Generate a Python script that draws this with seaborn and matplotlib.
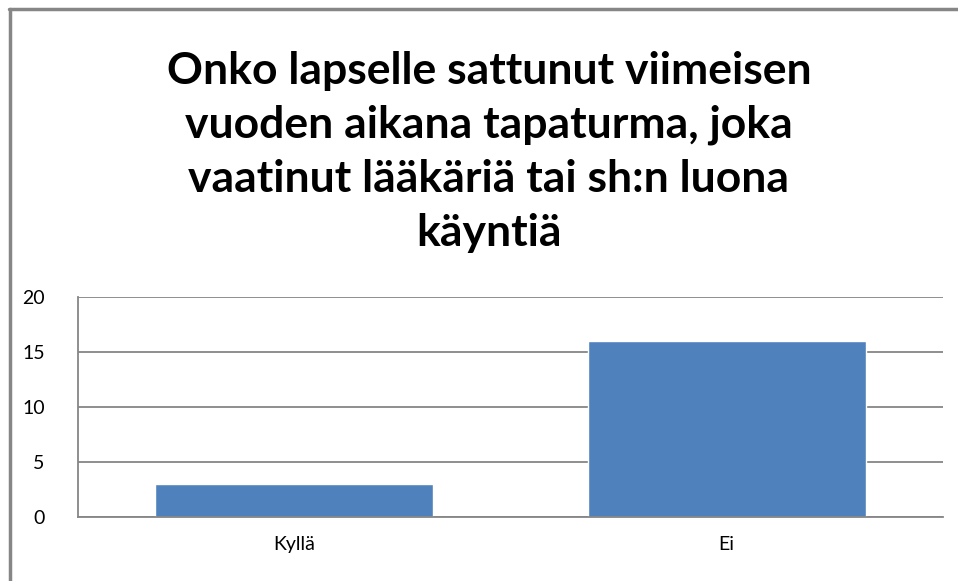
import matplotlib
matplotlib.use("Agg")
import matplotlib.pyplot as plt
import seaborn as sns
import pandas as pd
from matplotlib.lines import Line2D

categories = ["Kyllä", "Ei"]
values = [3, 16]
yticks = [0, 5, 10, 15, 20]
title = "Onko lapselle sattunut viimeisen\nvuoden aikana tapaturma, joka\nvaatinut lääkäriä tai sh:n luona\nkäyntiä"

sns.set_theme(style="white")
plt.rcParams['font.family'] = ['Lato', 'DejaVu Sans']

W, H = 958, 581
fig = plt.figure(figsize=(W/100, H/100), dpi=100)
ax = fig.add_axes([78/W, 1-517/H, (943-78)/W, (517-297)/H])

df = pd.DataFrame({"cat": categories, "val": values})
sns.barplot(data=df, x="cat", y="val", color="#4F81BD", saturation=1, width=0.643, ax=ax)

ax.set_ylim(0, 20)
ax.set_xlim(-0.5, 1.5)
ax.set_yticks(yticks)
ax.yaxis.grid(True, color="#868686", linewidth=1.3)
ax.set_axisbelow(True)
for s in ["top", "right"]:
    ax.spines[s].set_visible(False)
ax.spines["left"].set_color("#868686")
ax.spines["bottom"].set_color("#868686")
ax.spines["left"].set_linewidth(1.3)
ax.spines["bottom"].set_linewidth(1.3)
ax.set_xlabel("")
ax.set_ylabel("")
ax.tick_params(axis="both", length=0, labelsize=14, colors="black")
ax.tick_params(axis="x", pad=14)
ax.tick_params(axis="y", pad=24)

fig.text(489/W, 1-152/H, title, ha="center", va="center", fontsize=32,
         fontweight="bold", linespacing=1.42, color="black")

fig.lines.append(Line2D([9/W, 1.0], [1-8.5/H, 1-8.5/H], transform=fig.transFigure,
                        color="#868686", linewidth=2.5))
fig.lines.append(Line2D([9.5/W, 9.5/W], [0.0, 1-8.5/H], transform=fig.transFigure,
                        color="#868686", linewidth=2.5))

fig.savefig("out.png", dpi=100)
